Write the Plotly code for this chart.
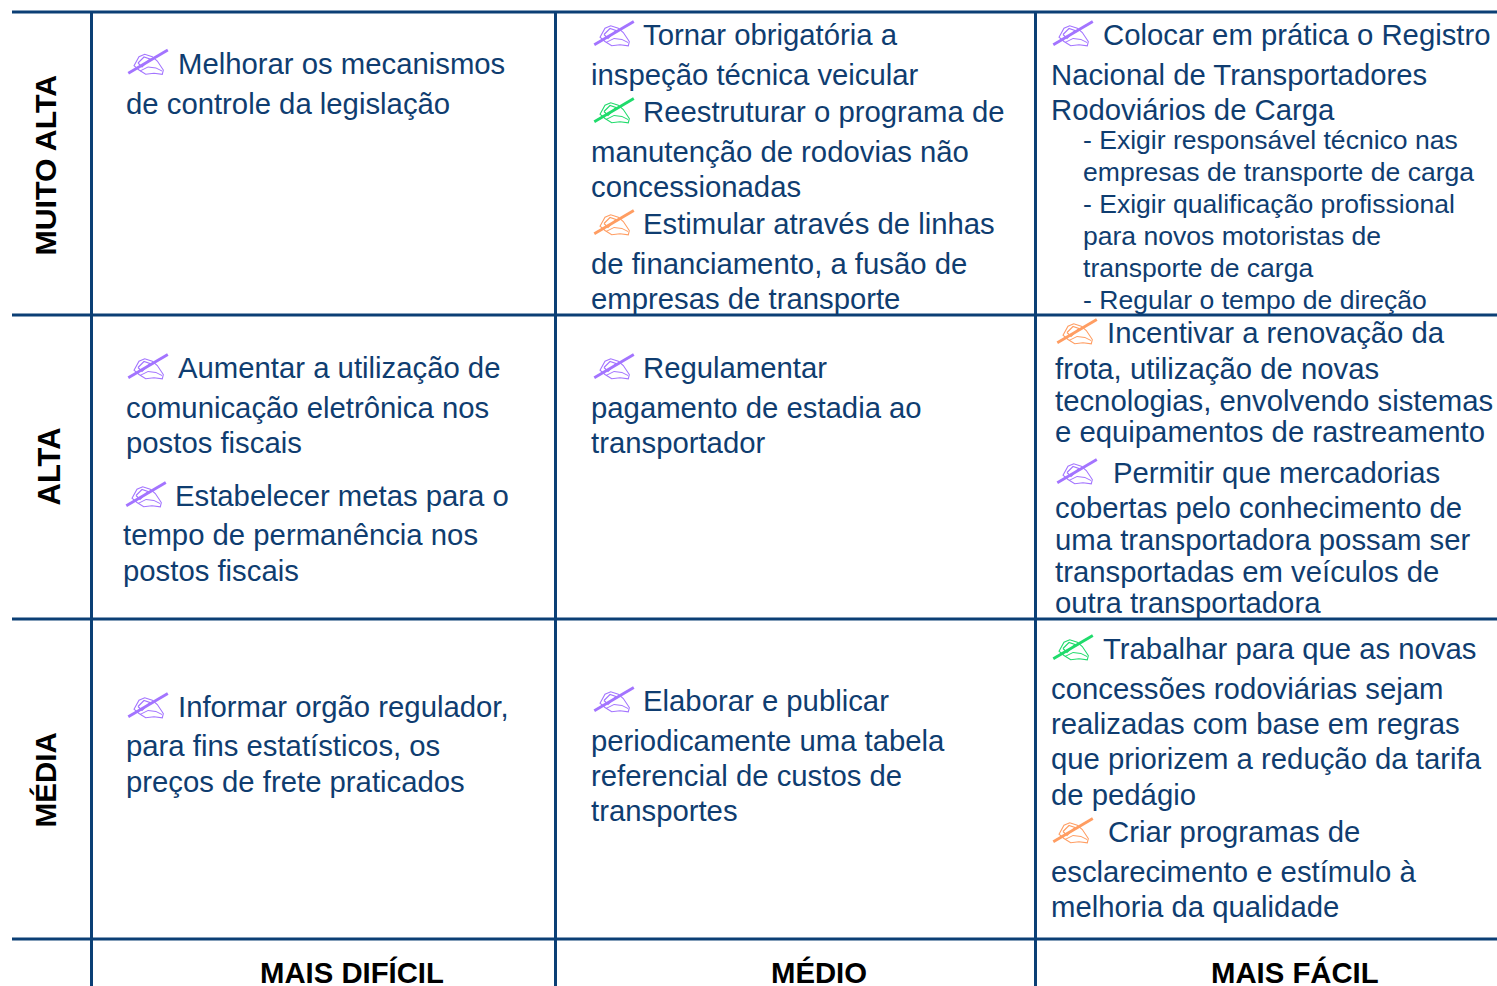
import plotly.graph_objects as go

row_labels = ["MUITO ALTA", "ALTA", "MÉDIA"]
col_labels = ["MAIS DIFÍCIL", "MÉDIO", "MAIS FÁCIL"]

cell_a1 = ["Melhorar os mecanismos", "de controle da legislação"]
cell_a2 = ["Tornar obrigatória a", "inspeção técnica veicular",
           "Reestruturar o programa de", "manutenção de rodovias não", "concessionadas",
           "Estimular através de linhas", "de financiamento, a fusão de", "empresas de transporte"]
cell_a3 = ["Colocar em prática o Registro", "Nacional de Transportadores", "Rodoviários de Carga"]
cell_a3_sub = ["- Exigir responsável técnico nas", "empresas de transporte de carga",
               "- Exigir qualificação profissional", "para novos motoristas de",
               "transporte de carga", "- Regular o tempo de direção"]
cell_b1 = ["Aumentar a utilização de", "comunicação eletrônica nos", "postos fiscais",
           "Estabelecer metas para o", "tempo de permanência nos", "postos fiscais"]
cell_b2 = ["Regulamentar", "pagamento de estadia ao", "transportador"]
cell_b3 = ["Incentivar a renovação da", "frota, utilização de novas",
           "tecnologias, envolvendo sistemas", "e equipamentos de rastreamento",
           "Permitir que mercadorias", "cobertas pelo conhecimento de",
           "uma transportadora possam ser", "transportadas em veículos de", "outra transportadora"]
cell_c1 = ["Informar orgão regulador,", "para fins estatísticos, os", "preços de frete praticados"]
cell_c2 = ["Elaborar e publicar", "periodicamente uma tabela", "referencial de custos de", "transportes"]
cell_c3 = ["Trabalhar para que as novas", "concessões rodoviárias sejam",
           "realizadas com base em regras", "que priorizem a redução da tarifa", "de pedágio",
           "Criar programas de", "esclarecimento e estímulo à", "melhoria da qualidade"]

INK = "#0F3D70"
RULE = "#0B3F75"
PURPLE, GREEN, ORANGE = "#A374FF", "#1FDB6B", "#FF9D62"
FONT = "Liberation Sans"

# layout of each block: lines, left x per line, centre y per line
blocks = [
    (cell_a1, [176.5, 124.5], [63, 103], 29.3),
    (cell_a2, [642, 590, 642, 590, 590, 642, 590, 590], [34, 74, 111, 151, 186, 223, 263, 298], 29.3),
    (cell_a3, [1102, 1050, 1050], [34, 74, 109], 29.3),
    (cell_a3_sub, [1082] * 6, [139.5, 171.5, 203.5, 235.5, 267.5, 299.5], 26.55),
    (cell_b1, [176.5, 124.5, 124.5, 174, 122, 122], [367, 407, 442, 495, 534, 570], 29.3),
    (cell_b2, [642, 590, 590], [367, 407, 442], 29.3),
    (cell_b3, [1106, 1054, 1054, 1054, 1112, 1054, 1054, 1054, 1054],
     [332, 368, 400, 431, 472, 507, 539, 571, 602], 29.3),
    (cell_c1, [176.5, 124.5, 124.5], [706, 745, 781], 29.3),
    (cell_c2, [642, 590, 590, 590], [700, 740, 775, 810], 29.3),
    (cell_c3, [1102, 1050, 1050, 1050, 1050, 1107, 1050, 1050],
     [648, 688, 723, 758, 794, 831, 871, 906], 29.3),
]

pens = [
    (148, 61, PURPLE), (614, 32.5, PURPLE), (614, 109.5, GREEN), (614, 221.5, ORANGE),
    (1073, 32.5, PURPLE), (148, 365.5, PURPLE), (146, 493.5, PURPLE), (614, 365.5, PURPLE),
    (1077, 330.5, ORANGE), (1077, 470.5, PURPLE), (148, 704.5, PURPLE), (614, 698.5, PURPLE),
    (1073, 646.5, GREEN), (1073, 829.5, ORANGE),
]

# pen icon outline, as offsets from the icon centre
PEN_STROKE = [(-19.7, 12.3), (19.8, -11)]
HAND = [(-14, 4.7), (-9, -4.3), (-3.3, -6.7), (4.3, -4.3), (9.3, 0), (15.3, 9),
        (14.3, 13.3), (6, 12.3), (-2.3, 13.3), (-9, 9)]
FINGERS = [(-10, 2), (-4, -4), (2, -2), (-6, 6), (-10, 2)]
CUFF = [(-8, 10), (0, 6), (8, 7), (14, 10)]


def path(points, cx, cy, close=False):
    d = "M" + " L".join(f"{cx + dx:.1f},{cy + dy:.1f}" for dx, dy in points)
    return d + (" Z" if close else "")


fig = go.Figure()
ann = []
for lines, xs, ys, size in blocks:
    for t, x, y in zip(lines, xs, ys):
        ann.append(dict(x=x, y=y, text=t, xanchor="left", yanchor="middle", showarrow=False,
                        borderpad=0, font=dict(family=FONT, size=size, color=INK)))
for t, x, y, s in zip(row_labels, [44.5, 48.5, 44.5], [165, 467, 780], [30.3, 31, 29.6]):
    ann.append(dict(x=x, y=y, text=f"<b>{t}</b>", textangle=-90, showarrow=False, borderpad=0,
                    font=dict(family=FONT, size=s, color="#000000")))
for t, x in zip(col_labels, [351.5, 818.5, 1294.5]):
    ann.append(dict(x=x, y=972.5, text=f"<b>{t}</b>", showarrow=False, borderpad=0,
                    font=dict(family=FONT, size=29.3, color="#000000")))

shapes = []
for y in [12, 315, 619, 939]:
    shapes.append(dict(type="line", x0=12, x1=1497, y0=y, y1=y, line=dict(color=RULE, width=3)))
for x in [91.5, 555.5, 1035.5]:
    shapes.append(dict(type="line", x0=x, x1=x, y0=12, y1=986, line=dict(color=RULE, width=3)))
for cx, cy, c in pens:
    shapes.append(dict(type="path", path=path(HAND, cx, cy, True), line=dict(color=c, width=1.1)))
    shapes.append(dict(type="path", path=path(FINGERS, cx, cy), line=dict(color=c, width=1.1)))
    shapes.append(dict(type="path", path=path(CUFF, cx, cy), line=dict(color=c, width=1)))
    shapes.append(dict(type="path", path=path(PEN_STROKE, cx, cy), line=dict(color=c, width=2.8)))

fig.update_layout(
    width=1497, height=986, margin=dict(l=0, r=0, t=0, b=0),
    paper_bgcolor="white", plot_bgcolor="white", showlegend=False,
    xaxis=dict(range=[0, 1497], visible=False, fixedrange=True),
    yaxis=dict(range=[986, 0], visible=False, fixedrange=True),
    annotations=ann, shapes=shapes,
)
fig.write_html("out.html", config={"displayModeBar": False},
               post_script="document.body.style.margin='0';document.body.style.overflow='hidden';")
